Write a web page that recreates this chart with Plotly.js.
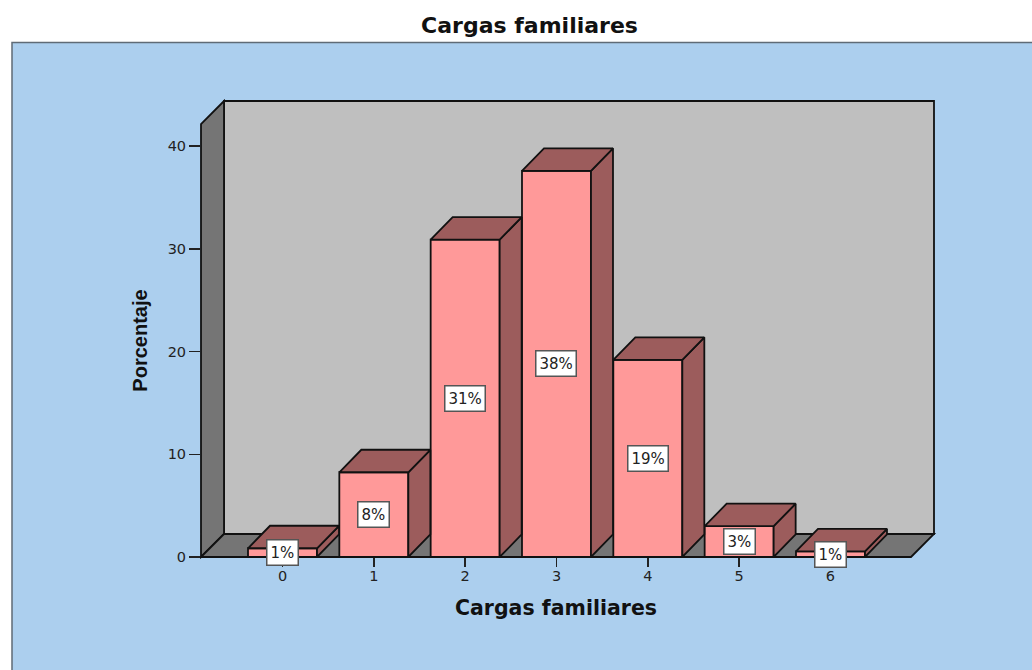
<!DOCTYPE html>
<html>
<head>
<meta charset="utf-8">
<script src="https://cdn.plot.ly/plotly-3.0.1.min.js"></script>
<style>html,body{margin:0;padding:0;background:#fff}</style>
</head>
<body>
<div id="chart" style="width:1032px;height:670px"></div>
<script>
const categories = [0, 1, 2, 3, 4, 5, 6];
const percentages = [0.85, 8.25, 30.9, 37.6, 19.2, 3.0, 0.55];
const pointLabels = ["1%", "8%", "31%", "38%", "19%", "3%", "1%"];
const yTicks = [0, 10, 20, 30, 40];
const chartTitle = "Cargas familiares";
const xTitle = "Cargas familiares";
const yTitle = "Porcentaje";

// The axes span the front plane of the 3D box (710 x 433 px); the box depth extends beyond it.
const plotW = 710, plotH = 433;
const pxPerX = 91.33, pxPerY = 10.27;
const xRange = [-81.5 / pxPerX, (plotW - 81.5) / pxPerX];
const yRange = [0, plotH / pxPerY];
const barWidth = 69 / pxPerX;
const barDx = 22 / pxPerX, barDy = 22.5 / pxPerY;
const wallDx = 23 / plotW, wallDy = 23 / plotH;

const faceLine = {color: "#111111", width: 1.8};
const polyPath = pts => "M" + pts.map(p => p[0] + "," + p[1]).join("L") + "Z";

// top and side faces of each bar, derived from the values
const topX = [], topY = [], sideX = [], sideY = [];
categories.forEach((c, i) => {
  const l = c - barWidth / 2, r = c + barWidth / 2, v = percentages[i];
  topX.push(l, r, r + barDx, l + barDx, l, null);
  topY.push(v, v, v + barDy, v + barDy, v, null);
  sideX.push(r, r + barDx, r + barDx, r, r, null);
  sideY.push(0, barDy, v + barDy, v, 0, null);
});

const traces = [
  {type: "bar", x: categories, y: percentages, width: barWidth,
   marker: {color: "#FF9999", line: faceLine}, showlegend: false, hoverinfo: "skip"},
  {type: "scatter", mode: "lines", x: sideX, y: sideY, fill: "toself", fillcolor: "#9C5C5C",
   line: faceLine, cliponaxis: false, showlegend: false, hoverinfo: "skip"},
  {type: "scatter", mode: "lines", x: topX, y: topY, fill: "toself", fillcolor: "#9C5C5C",
   line: faceLine, cliponaxis: false, showlegend: false, hoverinfo: "skip"}
];

const wallShape = (pts, fill) => ({type: "path", xref: "paper", yref: "paper", layer: "below",
  path: polyPath(pts), fillcolor: fill, line: {color: "#111111", width: 1.8}});

const shapes = [
  {type: "rect", xref: "paper", yref: "paper", layer: "below",
   x0: -189 / plotW, x1: 1.3, y0: -0.4, y1: 1 + 81.5 / plotH,
   fillcolor: "#ACCFEE", line: {color: "#5F6B76", width: 1.5}},
  wallShape([[wallDx, wallDy], [1 + wallDx, wallDy], [1 + wallDx, 1 + wallDy], [wallDx, 1 + wallDy]], "#BFBFBF"),
  wallShape([[0, 0], [wallDx, wallDy], [wallDx, 1 + wallDy], [0, 1]], "#757575"),
  wallShape([[0, 0], [wallDx, wallDy], [1 + wallDx, wallDy], [1, 0]], "#757575")
];

const annotations = categories.map((c, i) => ({
  x: c, y: percentages[i] / 2, xref: "x", yref: "y", text: pointLabels[i], showarrow: false,
  bgcolor: "#FFFFFF", bordercolor: "#555555", borderwidth: 1.5, borderpad: 3,
  font: {family: "DejaVu Sans", size: 15, color: "#222222"}
}));

const layout = {
  width: 1032, height: 670,
  margin: {l: 201, r: 121, t: 124, b: 113, pad: 0},
  paper_bgcolor: "#FFFFFF", plot_bgcolor: "rgba(0,0,0,0)",
  title: {text: chartTitle, x: 529.5 / 1032, xanchor: "center", xref: "container", y: 1 - 25 / 670, yanchor: "middle",
          font: {family: "DejaVu Sans", size: 22, weight: 700, color: "#111111"}},
  bargap: 0,
  hovermode: false,
  showlegend: false,
  xaxis: {range: xRange, tickmode: "array", tickvals: categories, ticktext: categories.map(String),
          ticks: "outside", ticklen: 9, tickwidth: 1.5, tickcolor: "#222222",
          showgrid: false, zeroline: false, showline: false, fixedrange: true, ticklabelstandoff: -3,
          tickfont: {family: "DejaVu Sans", size: 14.5, color: "#222222"},
          title: {text: xTitle, standoff: 17,
                  font: {family: "DejaVu Sans", size: 20.5, weight: 700, color: "#111111"}}},
  yaxis: {range: yRange, tickmode: "array", tickvals: yTicks, ticktext: yTicks.map(String),
          ticks: "outside", ticklen: 11, tickwidth: 1.5, tickcolor: "#222222",
          showgrid: false, zeroline: false, showline: false, fixedrange: true,
          tickfont: {family: "DejaVu Sans", size: 14.5, color: "#222222"},
          title: {text: yTitle, standoff: 14,
                  font: {family: "Liberation Sans", size: 20, weight: 700, color: "#111111"}}},
  shapes: shapes,
  annotations: annotations
};

Plotly.newPlot("chart", traces, layout, {displayModeBar: false, staticPlot: true});
</script>
</body>
</html>
